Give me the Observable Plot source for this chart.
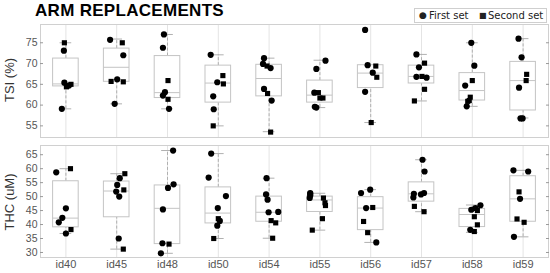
<!DOCTYPE html>
<html><head><meta charset="utf-8">
<script src="https://cdn.jsdelivr.net/npm/d3@7"></script>
<script src="https://cdn.jsdelivr.net/npm/@observablehq/plot@0.6"></script>
<style>
body{margin:0;background:#fff;}
#wrap{position:relative;width:550px;height:273px;font-family:"Liberation Sans",Arial,sans-serif;overflow:hidden;}
#head{position:relative;height:23px;}
#title{position:absolute;left:35px;top:1px;font-weight:bold;font-size:17px;color:#000;letter-spacing:0.3px;}
#legend{position:absolute;left:414px;top:8px;width:131px;height:13px;border:1px solid #cfcfcf;background:#fff;font-family:"DejaVu Sans",sans-serif;font-size:10px;line-height:13px;color:#222;white-space:nowrap;}
#legend span{position:absolute;top:0;}
.ylab{position:absolute;font-size:13px;color:#333;white-space:nowrap;transform:translate(-50%,-50%) rotate(-90deg);}
svg{display:block;}
</style>
</head><body>
<div id="wrap">
  <div id="head">
    <div id="title">ARM REPLACEMENTS</div>
    <div id="legend"><span style="left:4px;font-size:9px">●</span><span style="left:14px">First set</span><span style="left:64px;font-size:8px">■</span><span style="left:73px">Second set</span></div>
  </div>
  <div id="top"></div>
  <div id="bottom"></div>
  <div class="ylab" style="left:9px;top:80px">TSI (%)</div>
  <div class="ylab" style="left:9px;top:202px">THC (uM)</div>
</div>
<script>
const ids = ["id40","id45","id48","id50","id54","id55","id56","id57","id58","id59"];

// TSI (%) box statistics
const tsiQ1  = [64.5, 65.6, 61.7, 60.6, 62.1, 60.6, 64.1, 65.2, 61.1, 58.7];
const tsiMed = [65.1, 69.1, 63.0, 65.3, 66.4, 62.4, 67.7, 66.9, 63.5, 65.9];
const tsiQ3  = [71.2, 73.6, 71.8, 69.5, 69.7, 65.9, 69.6, 69.5, 67.7, 70.4];
const tsiLo  = [59.1, 60.3, 59.1, 55.0, 53.6, 59.4, 55.8, 61.0, 59.7, 56.9];
const tsiHi  = [75.0, 75.9, 77.0, 72.1, 71.3, 70.8, 69.6, 72.2, 75.0, 76.0];
// TSI points
const tsiValues = [
  [75.0, 73.1, 65.4, 64.4, 64.7, 65.0, 59.1],
  [75.7, 75.0, 72.0, 65.7, 66.2, 65.6, 60.3],
  [77.0, 73.8, 65.9, 63.1, 62.3, 61.4, 59.1],
  [72.1, 65.5, 67.1, 65.1, 62.1, 59.0, 55.0],
  [71.3, 69.9, 69.4, 68.9, 63.9, 62.8, 61.1, 53.5],
  [70.7, 68.7, 63.0, 63.0, 61.7, 61.7, 59.6, 59.4],
  [78.1, 69.6, 69.4, 67.8, 66.7, 63.2, 55.8],
  [72.2, 70.1, 69.1, 66.8, 66.9, 66.6, 63.8, 61.0],
  [75.0, 69.5, 65.9, 64.7, 61.9, 61.1, 60.9, 59.7],
  [76.0, 71.5, 67.4, 65.9, 64.2, 56.8, 56.8]
];
const tsiJitter = [
  [-0.03, -0.04, -0.03, 0.01, 0.06, 0.10, -0.08],
  [-0.13, 0.11, 0.13, -0.11, 0.01, 0.13, -0.04],
  [-0.07, -0.09, 0.01, -0.05, -0.09, 0.01, 0.03],
  [-0.15, -0.02, 0.09, 0.10, -0.10, -0.09, -0.10],
  [-0.10, -0.12, -0.04, 0.03, -0.10, -0.03, 0.05, 0.03],
  [0.11, -0.07, -0.11, -0.03, 0.00, 0.06, -0.10, -0.07],
  [-0.11, -0.06, 0.10, 0.04, 0.12, -0.11, 0.01],
  [-0.10, 0.06, -0.05, -0.10, 0.01, 0.10, 0.06, -0.14],
  [-0.02, 0.04, 0.00, -0.14, -0.04, -0.06, -0.09, -0.11],
  [-0.09, -0.03, 0.07, 0.06, -0.08, -0.05, -0.01]
];
const tsiSet = [
  [2,1,1,2,1,2,1],
  [1,2,1,2,1,2,1],
  [1,1,2,1,1,2,1],
  [1,1,2,2,1,1,2],
  [1,1,2,1,1,2,1,2],
  [1,1,1,2,2,2,1,1],
  [1,1,2,1,2,1,2],
  [1,2,1,1,2,1,2,2],
  [1,1,2,1,2,2,2,1],
  [1,1,2,2,1,1,1]
];

// THC (uM) box statistics
const thcQ1  = [39.0, 42.6, 33.0, 40.4, 41.0, 44.5, 38.0, 48.2, 39.1, 41.0];
const thcMed = [42.3, 52.0, 45.8, 44.1, 44.4, 48.8, 45.9, 51.0, 43.6, 49.2];
const thcQ3  = [55.5, 55.4, 54.0, 53.3, 50.0, 50.0, 49.8, 55.1, 45.6, 57.3];
const thcLo  = [36.8, 31.2, 29.7, 35.0, 35.1, 38.0, 33.6, 44.6, 37.2, 35.6];
const thcHi  = [60.0, 58.2, 66.5, 65.4, 56.6, 51.2, 52.5, 63.2, 47.0, 59.4];
// THC points
const thcValues = [
  [58.7, 60.0, 45.8, 42.4, 40.8, 36.8, 38.2],
  [58.2, 56.6, 54.2, 52.4, 51.8, 50.0, 35.0, 31.2],
  [66.5, 54.4, 53.1, 45.4, 33.3, 33.0, 29.7],
  [65.4, 56.8, 50.2, 45.9, 42.1, 41.3, 39.6, 35.0],
  [56.6, 50.8, 48.9, 44.4, 44.5, 41.4, 40.6, 35.1],
  [51.3, 51.0, 50.4, 49.5, 49.5, 47.8, 46.8, 42.1, 38.0],
  [52.5, 51.3, 45.9, 46.1, 41.1, 37.1, 33.6],
  [63.2, 59.0, 51.0, 49.7, 50.8, 51.3, 46.5, 44.6],
  [45.3, 45.9, 45.0, 46.9, 42.8, 39.9, 38.1, 37.5],
  [59.4, 59.0, 51.7, 49.2, 42.0, 40.8, 35.6]
];
const thcJitter = [
  [-0.19, 0.09, 0.00, -0.07, -0.14, 0.00, 0.10],
  [0.16, 0.06, 0.01, 0.14, -0.01, 0.05, 0.04, 0.13],
  [0.11, 0.12, 0.01, -0.09, -0.10, 0.03, -0.13],
  [-0.14, -0.19, 0.15, -0.01, 0.00, 0.03, -0.02, -0.09],
  [-0.05, -0.06, -0.03, -0.01, 0.18, 0.04, 0.13, 0.07],
  [-0.19, -0.19, -0.19, -0.20, 0.07, 0.10, 0.11, 0.05, -0.15],
  [-0.01, -0.19, -0.09, 0.04, -0.14, -0.06, 0.11],
  [0.02, 0.06, -0.15, -0.16, -0.01, 0.05, -0.14, 0.05],
  [-0.02, 0.06, 0.10, 0.16, 0.04, 0.10, -0.04, 0.04],
  [-0.19, 0.10, -0.08, -0.06, -0.12, 0.02, -0.18]
];
const thcSet = [
  [1,2,1,1,1,1,2],
  [2,1,1,2,1,1,1,2],
  [1,1,1,1,1,2,1],
  [1,1,1,1,2,1,1,2],
  [1,1,1,1,1,2,2,2],
  [1,1,1,1,2,2,2,2,2],
  [1,1,1,2,2,2,1],
  [1,1,1,1,1,1,2,2],
  [1,1,2,1,2,2,1,2],
  [1,1,2,1,2,2,1]
];

const FONT = '"Liberation Sans", Arial, sans-serif';
const BOX_HALF = 0.252, CAP_HALF = 0.115;
const boxStroke = "#c4c4c4", whiskStroke = "#b0b0b0";

function panel(o) {
  const pts = [];
  ids.forEach((id, i) => o.values[i].forEach((v, k) =>
    pts.push({i, v, j: o.jitter[i][k], s: o.sets[i][k]})));
  const boxes = ids.map((id, i) => ({i, q1: o.q1[i], med: o.med[i], q3: o.q3[i], lo: o.lo[i], hi: o.hi[i]}));
  return Plot.plot({
    width: 550, height: o.height,
    marginLeft: 40, marginRight: 2, marginTop: o.marginTop, marginBottom: o.marginBottom,
    x: {domain: [-0.5, ids.length - 0.5], axis: null},
    y: {domain: o.domain, axis: null},
    style: {fontFamily: FONT, fontSize: "10.5px", background: "#fff", color: "#555"},
    marks: [
      Plot.ruleX(boxes, {x: "i", stroke: "#e4e4e4", strokeWidth: 1}),
      Plot.ruleX(boxes, {x: "i", y1: "q3", y2: "hi", stroke: whiskStroke, strokeDasharray: "3,2"}),
      Plot.ruleX(boxes, {x: "i", y1: "lo", y2: "q1", stroke: whiskStroke, strokeDasharray: "3,2"}),
      Plot.ruleY(boxes, {y: "hi", x1: d => d.i - CAP_HALF, x2: d => d.i + CAP_HALF, stroke: whiskStroke}),
      Plot.ruleY(boxes, {y: "lo", x1: d => d.i - CAP_HALF, x2: d => d.i + CAP_HALF, stroke: whiskStroke}),
      Plot.rect(boxes, {x1: d => d.i - BOX_HALF, x2: d => d.i + BOX_HALF, y1: "q1", y2: "q3", fill: "#fff", stroke: boxStroke}),
      Plot.ruleY(boxes, {y: "med", x1: d => d.i - BOX_HALF, x2: d => d.i + BOX_HALF, stroke: boxStroke}),
      Plot.frame({stroke: "#d0d0d0"}),
      Plot.axisY({ticks: o.ticks, tickSize: -3, tickPadding: 6, stroke: "#999", fill: "#555", label: null}),
      Plot.axisY({anchor: "right", ticks: o.ticks, tickSize: -3, tickFormat: () => "", stroke: "#999", label: null}),
      o.showX ? Plot.axisX({ticks: ids.map((d, i) => i), tickFormat: i => ids[i], tickSize: 0, tickPadding: 3, fontSize: 11, fill: "#555", label: null}) : null,
      Plot.dot(pts.filter(d => d.s === 1), {x: d => d.i + d.j, y: "v", r: 3.1, fill: "#000", symbol: "circle"}),
      Plot.dot(pts.filter(d => d.s === 2), {x: d => d.i + d.j, y: "v", r: 2.9, fill: "#000", symbol: "square"})
    ]
  });
}

document.getElementById("top").append(panel({
  values: tsiValues, jitter: tsiJitter, sets: tsiSet,
  q1: tsiQ1, med: tsiMed, q3: tsiQ3, lo: tsiLo, hi: tsiHi,
  domain: [52.2, 79.4], ticks: [55, 60, 65, 70, 75],
  height: 117, marginTop: 1, marginBottom: 3, showX: false
}));
document.getElementById("bottom").append(panel({
  values: thcValues, jitter: thcJitter, sets: thcSet,
  q1: thcQ1, med: thcMed, q3: thcQ3, lo: thcLo, hi: thcHi,
  domain: [28.2, 68.3], ticks: [30, 35, 40, 45, 50, 55, 60, 65],
  height: 133, marginTop: 5, marginBottom: 16, showX: true
}));
</script>
</body></html>
